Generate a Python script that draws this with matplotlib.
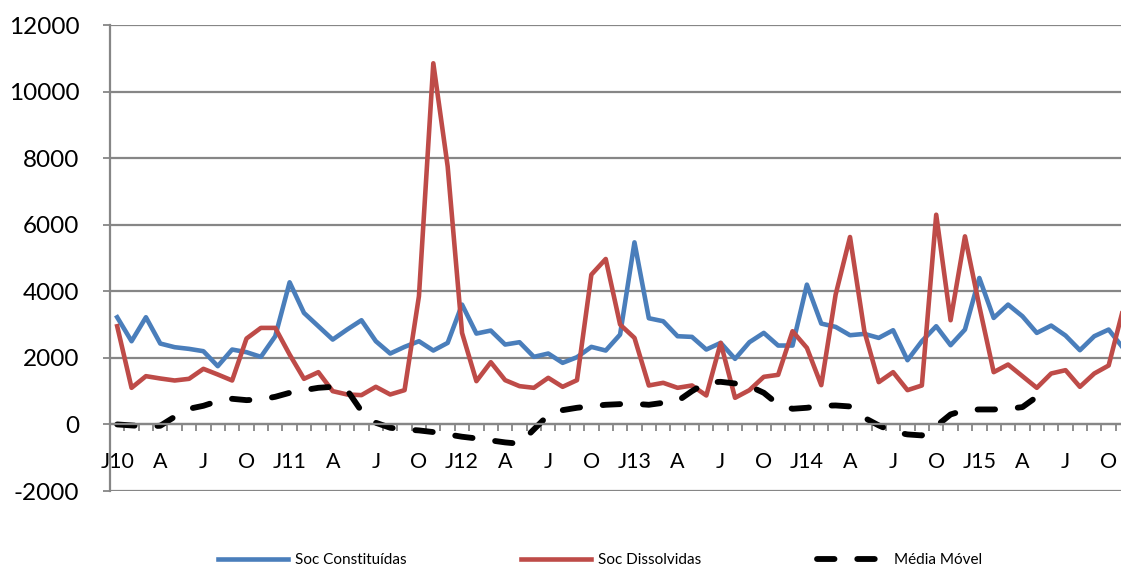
import numpy as np
import matplotlib
matplotlib.use('Agg')
import matplotlib.pyplot as plt
from matplotlib.ticker import FixedLocator, MultipleLocator

plt.rcParams['font.family'] = ['Lato', 'DejaVu Sans']
plt.rcParams['axes.unicode_minus'] = False

# Monthly values, Jan 2010 .. Nov 2015
constituidas = [3220, 2500, 3220, 2430, 2320, 2270, 2200, 1750, 2250, 2170, 2030, 2650,
                4270, 3350, 2950, 2550, 2850, 3130, 2500, 2130, 2330, 2500, 2220, 2450,
                3600, 2730, 2820, 2400, 2470, 2030, 2130, 1850, 2020, 2330, 2220, 2700,
                5470, 3190, 3100, 2650, 2630, 2250, 2450, 1970, 2470, 2750, 2370, 2370,
                4200, 3030, 2930, 2680, 2720, 2600, 2830, 1930, 2500, 2950, 2380, 2850,
                4400, 3200, 3600, 3250, 2750, 2970, 2670, 2230, 2650, 2850, 2300]
dissolvidas = [2950, 1100, 1450, 1380, 1320, 1370, 1670, 1500, 1320, 2580, 2900, 2900,
               2100, 1370, 1570, 1000, 900, 880, 1130, 900, 1030, 3850, 10850, 7750,
               2750, 1300, 1870, 1330, 1150, 1100, 1400, 1130, 1330, 4500, 4970, 3000,
               2600, 1170, 1250, 1100, 1170, 870, 2450, 800, 1030, 1430, 1490, 2800,
               2300, 1180, 3900, 5630, 2800, 1270, 1570, 1030, 1170, 6300, 3130, 5650,
               3550, 1570, 1800, 1450, 1100, 1530, 1630, 1130, 1530, 1770, 3450]
media_movel = [0, -30, -60, -40, 230, 470, 560, 700, 770, 730, 750, 830,
               950, 1030, 1100, 1130, 1030, 400, 50, -100, -150, -180, -230, -300,
               -370, -420, -480, -540, -580, -150, 280, 430, 500, 550, 590, 610,
               620, 590, 650, 700, 1000, 1260, 1280, 1230, 1150, 950, 600, 470,
               500, 560, 570, 540, 200, -30, -220, -300, -330, -50, 300, 430,
               450, 450, 470, 520, 830]

month_labels = ['J10', 'A', 'J', 'O', 'J11', 'A', 'J', 'O', 'J12', 'A', 'J', 'O',
                'J13', 'A', 'J', 'O', 'J14', 'A', 'J', 'O', 'J15', 'A', 'J', 'O']

x = np.arange(len(constituidas))
x_ma = np.arange(len(media_movel))

fig = plt.figure(figsize=(11.21, 5.67), dpi=100)
ax = fig.add_axes([110 / 1121, 1 - 491 / 567, 1 - 110 / 1121, (491 - 25) / 567])

grid_col = '#868686'

l1, = ax.plot(x, constituidas, color='#4A7EBB', lw=3.3, solid_joinstyle='round',
              label='Soc Constituídas')
l2, = ax.plot(x, dissolvidas, color='#BE4B48', lw=3.3, solid_joinstyle='round',
              label='Soc Dissolvidas')
l3, = ax.plot(x_ma, media_movel, color='black', lw=4.2, dashes=(3.0, 3.9),
              dash_capstyle='round', label='Média Móvel')

ax.set_xlim(-0.5, 69.86)
ax.set_ylim(-2000, 12000)

# y axis: gridlines every 2000
ax.yaxis.set_major_locator(MultipleLocator(2000))
ax.grid(axis='y', color=grid_col, lw=1.6)
ax.set_axisbelow(True)
ax.tick_params(axis='y', direction='out', length=5, width=1.3, color=grid_col,
               labelsize=17.5, pad=17)

# category axis crossing at zero
for s in ['top', 'right']:
    ax.spines[s].set_visible(False)
ax.spines['left'].set_color(grid_col)
ax.spines['left'].set_linewidth(1.6)
ax.spines['bottom'].set_position(('data', 0))
ax.spines['bottom'].set_color(grid_col)
ax.spines['bottom'].set_linewidth(1.6)

ax.xaxis.set_major_locator(FixedLocator(np.arange(0, 70, 3)))
ax.set_xticklabels(month_labels)
ax.xaxis.set_minor_locator(FixedLocator(np.arange(-0.5, 70, 1)))
ax.tick_params(axis='x', which='major', length=0, labelsize=15.5, pad=20)
ax.tick_params(axis='x', which='minor', direction='out', length=5, width=1.3,
               color=grid_col)

# legend entries spread evenly across the bottom
for handle, xpos in [(l1, 218), (l2, 521), (l3, 817)]:
    fig.legend(handles=[handle], loc='center left',
               bbox_to_anchor=(xpos / 1121, 1 - 560 / 567), frameon=False,
               fontsize=11, handlelength=4.6, handletextpad=0.45,
               borderpad=0, borderaxespad=0)

fig.savefig('out.png', dpi=100)
